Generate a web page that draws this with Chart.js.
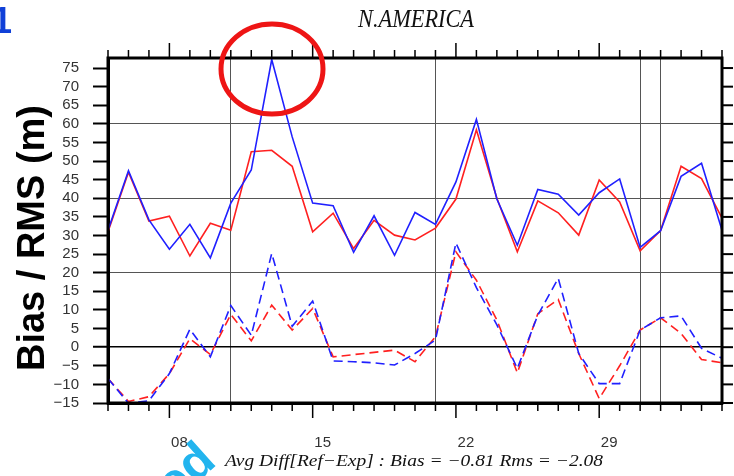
<!DOCTYPE html>
<html>
<head>
<meta charset="utf-8">
<script src="https://cdn.jsdelivr.net/npm/chart.js@4.4.1/dist/chart.umd.min.js"></script>
<style>
  body { margin: 0; background: #fff; }
  #wrap { width: 734px; height: 476px; position: relative; }
</style>
</head>
<body>
<div id="wrap"><canvas id="myChart" width="734" height="476"></canvas></div>
<script>
// ngay trong thang (05 -> 31, roi 01 -> 04 thang sau)
var days = ['05','06','07','08','09','10','11','12','13','14','15','16','17','18','19','20',
            '21','22','23','24','25','26','27','28','29','30','31','01','02','03','04'];
var majorIdx = [3, 10, 17, 24];        // 08, 15, 22, 29
var vLineIdx = [6, 16, 26, 27];        // 11, 21, 31, 01
var yTicks = [-15,-10,-5,0,5,10,15,20,25,30,35,40,45,50,55,60,65,70,75];
var hGrid = [20, 40, 60];

// RMS (net lien)
var rmsRed  = [31, 47, 33.9, 35.2, 24.5, 33.3, 31.4, 52.5, 52.9, 48.6, 31, 36, 26.5, 34.1,
               30.1, 28.8, 32, 39.8, 58.4, 40, 25.6, 39.3, 36.1, 30.1, 44.9, 39, 25.9, 31.3,
               48.6, 45.3, 34.7];
var rmsBlue = [31.4, 47.4, 34.2, 26.3, 33, 24, 38.7, 47.6, 77.3, 56.5, 38.7, 38, 25.5, 35.3,
               24.7, 36.2, 33, 44.4, 61.2, 39.8, 27.4, 42.4, 41.1, 35.5, 41.5, 45.2, 26.8, 31.3,
               45.9, 49.4, 31.4];
// Bias (net dut)
var biasRed  = [-8.4, -14.6, -13.3, -7.1, 2.3, -2, 8.8, 1.7, 11.3, 4.6, 10.4, -2.6, -2, -1.4,
                -0.8, -3.9, 2.8, 25.6, 18, 7.3, -6.9, 9, 12.8, -1.7, -13.8, -5, 4.6, 7.9,
                3.7, -3.3, -4.2];
var biasBlue = [-8.4, -15.1, -14.4, -7.1, 4.8, -2.6, 11.2, 3.2, 25.2, 5.6, 12.4, -3.7, -3.9, -4.2,
                -4.8, -1.7, 1.9, 28, 16, 6, -5.7, 8.6, 18.5, -1.7, -9.8, -9.8, 4.6, 7.9,
                8.4, -0.3, -3];

var RED = '#ff2020';
var BLUE = '#2020ff';

function fitText(ctx, text, x, y, width) {
    var w = ctx.measureText(text).width;
    ctx.save();
    ctx.translate(x, y);
    ctx.scale(width / w, 1);
    ctx.fillText(text, 0, 0);
    ctx.restore();
}

var extras = {
    id: 'extras',
    afterDraw: function (chart) {
        const ctx = chart.ctx;
        const a = chart.chartArea;
        const xs = chart.scales.x;
        const ys = chart.scales.y;
        ctx.save();

        // khung
        ctx.strokeStyle = '#000';
        ctx.lineWidth = 3;
        ctx.strokeRect(a.left, a.top, a.right - a.left, a.bottom - a.top);

        // vach truc x tren / duoi
        ctx.lineWidth = 1.5;
        days.forEach(function (d, i) {
            var px = xs.getPixelForValue(i);
            var len = majorIdx.indexOf(i) >= 0 ? 15 : 8;
            ctx.beginPath();
            ctx.moveTo(px, a.bottom); ctx.lineTo(px, a.bottom + len);
            ctx.moveTo(px, a.top); ctx.lineTo(px, a.top - len);
            ctx.stroke();
        });
        // vach truc phai
        ctx.lineWidth = 2;
        yTicks.forEach(function (v) {
            var py = ys.getPixelForValue(v);
            ctx.beginPath();
            ctx.moveTo(a.right, py); ctx.lineTo(a.right + 11, py);
            ctx.stroke();
        });

        // tieu de
        ctx.fillStyle = '#111';
        ctx.textAlign = 'left';
        ctx.textBaseline = 'alphabetic';
        ctx.font = 'italic 26px "Liberation Serif"';
        fitText(ctx, 'N.AMERICA', 358, 27, 116);

        ctx.font = 'italic 16px "Liberation Serif"';
        fitText(ctx, 'Avg Diff[Ref\u2212Exp] : Bias = \u22120.81 Rms = \u22122.08', 225, 466, 378);

        // ten truc y
        ctx.save();
        ctx.translate(44, 238);
        ctx.rotate(-Math.PI / 2);
        ctx.textAlign = 'center';
        ctx.fillStyle = '#000';
        ctx.font = 'bold 38px "Liberation Sans"';
        ctx.fillText('Bias / RMS (m)', 0, 0);
        ctx.restore();

        // so 1
        ctx.fillStyle = '#1040d8';
        ctx.textAlign = 'right';
        ctx.font = 'bold 36px "Liberation Sans"';
        ctx.fillText('1', 12, 33);

        // watermark
        ctx.save();
        ctx.translate(218, 464);
        ctx.rotate(-0.73);
        ctx.fillStyle = '#22b4ee';
        ctx.textAlign = 'right';
        ctx.font = 'bold 50px "Liberation Sans"';
        ctx.fillText('ed', 0, 0);
        ctx.restore();

        // vong tron do
        ctx.strokeStyle = '#ee1515';
        ctx.lineWidth = 5;
        ctx.beginPath();
        ctx.ellipse(272, 69, 51, 45, 0, 0, Math.PI * 2);
        ctx.stroke();

        ctx.restore();
    }
};

document.addEventListener("DOMContentLoaded", function () {
    const ctx = document.getElementById('myChart').getContext('2d');

    function line(data, color, dashed) {
        return {
            data: data,
            borderColor: color,
            borderWidth: 1.6,
            borderDash: dashed ? [9, 5] : [],
            pointRadius: 0,
            tension: 0,
            fill: false
        };
    }

    new Chart(ctx, {
        type: 'line',
        data: {
            labels: days,
            datasets: [
                line(rmsBlue, BLUE, false),
                line(biasBlue, BLUE, true),
                line(rmsRed, RED, false),
                line(biasRed, RED, true)
            ]
        },
        options: {
            responsive: false,
            animation: false,
            layout: { padding: { top: 58, right: 12, bottom: 0, left: 0 } },
            plugins: { legend: { display: false }, tooltip: { enabled: false } },
            scales: {
                x: {
                    type: 'category',
                    offset: false,
                    afterFit: function (s) { s.height = 73; s.paddingLeft = 0; s.paddingRight = 0; },
                    border: { display: true, color: '#000', width: 3 },
                    grid: {
                        drawTicks: false,
                        color: function (c) { return vLineIdx.indexOf(c.index) >= 0 ? '#555' : 'rgba(0,0,0,0)'; },
                        lineWidth: 1
                    },
                    ticks: {
                        autoSkip: false,
                        maxRotation: 0,
                        padding: 31,
                        labelOffset: 10,
                        color: '#333',
                        font: { family: 'Liberation Sans', size: 15 },
                        callback: function (v, i) { return majorIdx.indexOf(i) >= 0 ? days[i] : ''; }
                    }
                },
                y: {
                    min: -15,
                    max: 77.7,
                    afterFit: function (s) { s.width = 108; s.paddingTop = 0; s.paddingBottom = 0; },
                    afterBuildTicks: function (s) { s.ticks = yTicks.map(function (v) { return { value: v }; }); },
                    border: { display: true, color: '#000', width: 3 },
                    grid: {
                        tickLength: 15,
                        tickWidth: 2,
                        tickColor: '#000',
                        color: function (c) {
                            if (!c.tick) return 'rgba(0,0,0,0)';
                            if (c.tick.value === 0) return '#000';
                            return hGrid.indexOf(c.tick.value) >= 0 ? '#555' : 'rgba(0,0,0,0)';
                        },
                        lineWidth: function (c) { return c.tick && c.tick.value === 0 ? 1.5 : 1; }
                    },
                    ticks: {
                        autoSkip: false,
                        padding: 14,
                        color: '#333',
                        font: { family: 'Liberation Sans', size: 15 },
                        callback: function (v) { return v < 0 ? '\u2212' + Math.abs(v) : '' + v; }
                    }
                }
            }
        },
        plugins: [extras]
    });
});
</script>
</body>
</html>
